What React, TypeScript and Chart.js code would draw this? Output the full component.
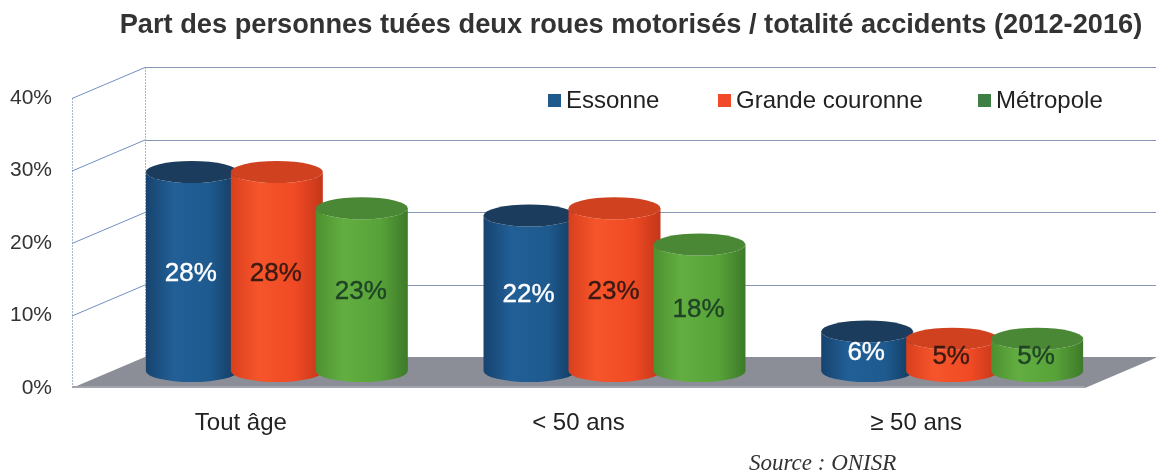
import React, { useEffect, useRef } from 'react';
import { Chart, registerables } from 'chart.js';

Chart.register(...registerables);

const TITLE = 'Part des personnes tuées deux roues motorisés / totalité accidents (2012-2016)';
const SOURCE = 'Source : ONISR';
const categories = ['Tout âge', '< 50 ans', '≥ 50 ans'];
const seriesNames = ['Essonne', 'Grande couronne', 'Métropole'];
const essonne = [28, 22, 6];
const grandeCouronne = [28, 23, 5];
const metropole = [23, 18, 5];
const yMax = 40;
const yStep = 10;

const legendColors = ['#1f5a8a', '#f04a2a', '#3f7f46'];
const bodyStops = [
  ['#17436e', '#215f97', '#1e5a8e', '#123a60'],
  ['#d93f1d', '#f6552b', '#f04a24', '#c4361a'],
  ['#4c9130', '#63ae41', '#58a339', '#3d7a29'],
];
const topColors = ['#1b3c5c', '#d0421f', '#4b8835'];
const labelColors = ['#ffffff', '#3a1a12', '#1f4426'];

const DEPTH_X = 73;
const DEPTH_Y = -31;
const CYL_DX = 36;
const CYL_TOP_DY = -13;
const CYL_BASE_DY = -17;
const CYL_EXTRA_W = 7;
const CYL_RY = 11;

const FONT = '"Liberation Sans", Arial, sans-serif';

const threeD = {
  id: 'threeD',
  beforeDatasetsDraw(chart: any) {
    const { ctx, chartArea } = chart;
    const ys = chart.scales.y;
    const L = chartArea.left;
    const R = chartArea.right;
    const y0 = ys.getPixelForValue(0);
    const yTop = ys.getPixelForValue(yMax);
    ctx.save();
    ctx.strokeStyle = '#d8dde6';
    ctx.lineWidth = 1;
    ctx.beginPath();
    ctx.moveTo(R + DEPTH_X + 0.5, yTop + DEPTH_Y);
    ctx.lineTo(R + DEPTH_X + 0.5, y0 + DEPTH_Y);
    ctx.stroke();
    ctx.strokeStyle = '#a9b8cf';
    ctx.setLineDash([2, 1]);
    ctx.beginPath();
    ctx.moveTo(L + 0.5, yTop);
    ctx.lineTo(L + 0.5, y0);
    ctx.moveTo(L + DEPTH_X + 0.5, yTop + DEPTH_Y);
    ctx.lineTo(L + DEPTH_X + 0.5, y0 + DEPTH_Y);
    ctx.stroke();
    ctx.setLineDash([]);
    for (let v = yStep; v <= yMax; v += yStep) {
      const y = ys.getPixelForValue(v);
      ctx.strokeStyle = '#6f90c2';
      ctx.beginPath();
      ctx.moveTo(L, y + 0.5);
      ctx.lineTo(L + DEPTH_X, y + DEPTH_Y + 0.5);
      ctx.stroke();
      ctx.strokeStyle = '#8496b2';
      ctx.beginPath();
      ctx.moveTo(L + DEPTH_X, Math.round(y + DEPTH_Y) + 0.5);
      ctx.lineTo(R + DEPTH_X, Math.round(y + DEPTH_Y) + 0.5);
      ctx.stroke();
    }
    ctx.fillStyle = '#8b8d97';
    ctx.beginPath();
    ctx.moveTo(L, y0);
    ctx.lineTo(R, y0);
    ctx.lineTo(R + DEPTH_X, y0 + DEPTH_Y);
    ctx.lineTo(L + DEPTH_X, y0 + DEPTH_Y);
    ctx.closePath();
    ctx.fill();
    ctx.strokeStyle = '#a2a4ad';
    ctx.lineWidth = 2;
    ctx.beginPath();
    ctx.moveTo(L, y0 - 1);
    ctx.lineTo(R, y0 - 1);
    ctx.stroke();
    ctx.restore();
  },
  beforeDatasetDraw() {
    return false;
  },
  afterDatasetsDraw(chart: any) {
    const { ctx } = chart;
    ctx.save();
    chart.data.datasets.forEach((ds: any, di: number) => {
      const meta = chart.getDatasetMeta(di);
      meta.data.forEach((bar: any, i: number) => {
        const p = bar.getProps(['x', 'y', 'base', 'width'], true);
        const cx = p.x + CYL_DX;
        const r = (p.width + CYL_EXTRA_W) / 2;
        const topY = p.y + CYL_TOP_DY;
        const botY = p.base + CYL_BASE_DY;
        const g = ctx.createLinearGradient(cx - r, 0, cx + r, 0);
        const st = bodyStops[di];
        g.addColorStop(0, st[0]);
        g.addColorStop(0.3, st[1]);
        g.addColorStop(0.7, st[2]);
        g.addColorStop(1, st[3]);
        ctx.fillStyle = g;
        ctx.beginPath();
        ctx.moveTo(cx - r, topY);
        ctx.lineTo(cx - r, botY);
        ctx.ellipse(cx, botY, r, CYL_RY, 0, Math.PI, 0, true);
        ctx.lineTo(cx + r, topY);
        ctx.ellipse(cx, topY, r, CYL_RY, 0, 0, Math.PI, false);
        ctx.closePath();
        ctx.fill();
        ctx.fillStyle = topColors[di];
        ctx.beginPath();
        ctx.ellipse(cx, topY, r, CYL_RY, 0, 0, Math.PI * 2);
        ctx.fill();
        ctx.fillStyle = labelColors[di];
        ctx.strokeStyle = labelColors[di];
        ctx.lineWidth = 0.4;
        ctx.font = `26px ${FONT}`;
        ctx.textAlign = 'center';
        ctx.textBaseline = 'middle';
        const tx = cx - 1;
        const ty = (topY + botY) / 2 + 2;
        ctx.fillText(`${ds.data[i]}%`, tx, ty);
        ctx.strokeText(`${ds.data[i]}%`, tx, ty);
      });
    });
    ctx.restore();
  },
  afterDraw(chart: any) {
    const { ctx } = chart;
    ctx.save();
    ctx.fillStyle = '#333333';
    ctx.textAlign = 'center';
    ctx.textBaseline = 'middle';
    let fs = 24;
    ctx.font = `bold ${fs}px ${FONT}`;
    const w = ctx.measureText(TITLE).width;
    fs = fs * 1023 / w;
    ctx.font = `bold ${fs.toFixed(2)}px ${FONT}`;
    ctx.fillText(TITLE, 631, 25);
    const lx = [548, 718, 978];
    ctx.font = `24px ${FONT}`;
    ctx.textAlign = 'left';
    chart.data.datasets.forEach((ds: any, di: number) => {
      ctx.fillStyle = legendColors[di];
      ctx.fillRect(lx[di], 94, 13, 13);
      ctx.fillStyle = '#222222';
      ctx.fillText(ds.label, lx[di] + 18, 101);
    });
    ctx.font = `italic 23px "Liberation Serif", "Times New Roman", serif`;
    ctx.fillStyle = '#333333';
    ctx.textAlign = 'left';
    ctx.fillText(SOURCE, 749, 464);
    ctx.restore();
  },
};

export default function App() {
  const ref = useRef<HTMLCanvasElement | null>(null);
  useEffect(() => {
    if (!ref.current) return;
    const chart = new Chart(ref.current, {
      type: 'bar',
      data: {
        labels: categories,
        datasets: [
          { label: seriesNames[0], data: essonne, backgroundColor: legendColors[0] },
          { label: seriesNames[1], data: grandeCouronne, backgroundColor: legendColors[1] },
          { label: seriesNames[2], data: metropole, backgroundColor: legendColors[2] },
        ].map((d) => ({ ...d, categoryPercentage: 0.755, barPercentage: 1.0, borderWidth: 0 })),
      },
      options: {
        responsive: false,
        animation: false,
        layout: { padding: { top: 98, left: 8, right: 71, bottom: 0 } },
        plugins: {
          legend: { display: false },
          title: { display: false },
          tooltip: { enabled: false },
        },
        scales: {
          x: {
            grid: { display: false, drawTicks: false },
            border: { display: false },
            ticks: { color: '#222222', font: { family: FONT, size: 24 }, padding: 21 },
            afterFit: (s: any) => { s.height = 86; },
          },
          y: {
            min: 0,
            max: yMax,
            grid: { display: false, drawTicks: false },
            border: { display: false },
            ticks: {
              stepSize: yStep,
              color: '#333333',
              font: { family: FONT, size: 21 },
              padding: 20,
              callback: (v: any) => `${v}%`,
            },
            afterFit: (s: any) => { s.width = 64; },
          },
        },
      },
      plugins: [threeD],
    } as any);
    return () => chart.destroy();
  }, []);
  return (
    <div style={{ position: 'absolute', left: 0, top: 0, width: 1156, height: 474, background: '#ffffff' }}>
      <canvas ref={ref} width={1156} height={474} style={{ display: 'block' }} />
    </div>
  );
}
